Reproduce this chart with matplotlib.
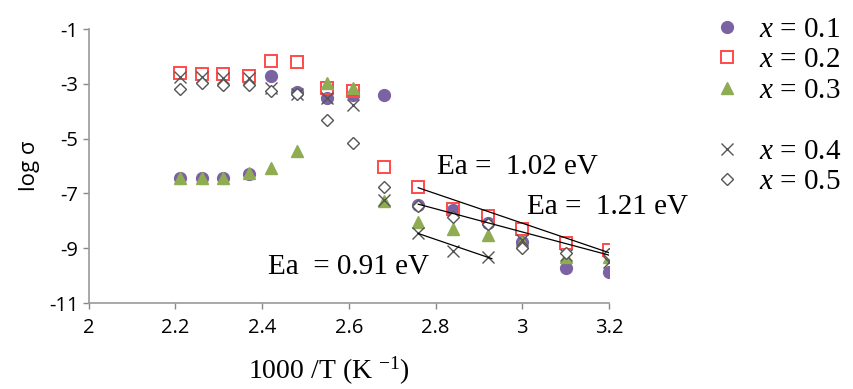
import matplotlib
matplotlib.use("Agg")
import matplotlib.pyplot as plt
from matplotlib.lines import Line2D

plt.rcParams['mathtext.fontset'] = 'custom'
plt.rcParams['mathtext.rm'] = 'Liberation Serif'
plt.rcParams['mathtext.it'] = 'Liberation Serif:italic'
plt.rcParams['axes.unicode_minus'] = False

# 1000/T values
inv_t = [2.21, 2.26, 2.31, 2.37, 2.42, 2.48, 2.55, 2.61, 2.68,
         2.76, 2.84, 2.92, 3.00, 3.10, 3.20]

# log sigma for each composition
x01 = [-6.44, -6.44, -6.43, -6.29, -2.72, -3.29, -3.53, -3.41, -3.41,
       -7.42, -7.60, -8.07, -8.76, -9.73, -9.86]
x02 = [-2.60, -2.64, -2.64, -2.72, -2.16, -2.19, -3.13, -3.25, -6.03,
       -6.75, -7.55, -7.81, -8.31, -8.80, -9.07]
x03 = [-6.45, -6.45, -6.43, -6.24, -6.06, -5.44, -2.98, -3.13, -7.26,
       -8.03, -8.31, -8.52, -8.76, -9.31, -9.31]
x04 = [-2.76, -2.74, -2.80, -2.80, -3.16, -3.37, -3.53, -3.77, -7.24,
       -8.46, -9.09, -9.31, -8.70, -9.25, -9.49]
x05 = [-3.20, -2.98, -3.04, -3.04, -3.25, -3.35, -4.32, -5.15, -6.75,
       -7.45, -7.85, -8.10, -9.00, -9.19, -9.20]

# fitted Arrhenius lines (endpoints)
fit_x = [[2.76, 3.20], [2.76, 3.20], [2.76, 2.93]]
fit_y = [[-6.79, -9.16], [-7.39, -9.25], [-8.46, -9.38]]

ea_labels = ["Ea =  1.02 eV", "Ea =  1.21 eV", "Ea  = 0.91 eV"]
ea_pos = [(2.804, -6.04), (3.012, -7.49), (2.413, -9.67)]

fig = plt.figure(figsize=(8.54, 3.89), dpi=100)
ax = fig.add_axes([0.104, 0.221, 0.609, 0.704])

h1, = ax.plot(inv_t, x01, 'o', color='#7b62a3', ms=8.5, mec='#7b62a3')
h2, = ax.plot(inv_t, x02, 's', mfc='none', mec='#ff4a4a', ms=8, mew=1.4)
h3, = ax.plot(inv_t, x03, '^', color='#8fac52', ms=9)
h4, = ax.plot(inv_t, x04, 'x', color='#555555', ms=8.5, mew=1.0)
h5, = ax.plot(inv_t, x05, 'D', mfc='white', mec='#555555', ms=6, mew=1.0)

for fx, fy in zip(fit_x, fit_y):
    ax.plot(fx, fy, '-', color='black', lw=0.9)

for txt, (tx, ty) in zip(ea_labels, ea_pos):
    ax.text(tx, ty, txt, fontsize=21, family='Liberation Serif', va='center', ha='left')

ax.set_xlim(2, 3.2)
ax.set_ylim(-11, -1)
ax.set_xticks([2, 2.2, 2.4, 2.6, 2.8, 3, 3.2])
ax.set_xticklabels(['2', '2.2', '2.4', '2.6', '2.8', '3', '3.2'])
ax.set_yticks([-1, -3, -5, -7, -9, -11])
for lab in ax.get_xticklabels() + ax.get_yticklabels():
    lab.set_family('Open Sans')
    lab.set_fontsize(14.5)
ax.tick_params(axis='both', colors='#888888', labelcolor='black', length=4, width=1)
ax.tick_params(axis='x', pad=7)
for s in ['top', 'right']:
    ax.spines[s].set_visible(False)
for s in ['left', 'bottom']:
    ax.spines[s].set_color('#999999')
    ax.spines[s].set_linewidth(1.2)

ax.set_xlabel('1000 /T (K $^{-1}$)', fontsize=20, family='Liberation Serif')
ax.xaxis.set_label_coords(0.462, -0.19)
ax.set_ylabel('log σ', fontsize=16, family='Open Sans', labelpad=6)

blank = Line2D([], [], linestyle='none')
handles = [h1, h2, h3, blank, h4, h5]
labels = ['$x$ = 0.1', '$x$ = 0.2', '$x$ = 0.3', '', '$x$ = 0.4', '$x$ = 0.5']
fig.legend(handles, labels, loc='upper left', bbox_to_anchor=(0.80, 1.025),
           frameon=False, prop={'family': 'Liberation Serif', 'size': 21},
           labelspacing=0.14, handletextpad=0.5, handlelength=1.2)

fig.savefig('out.png', dpi=100)
